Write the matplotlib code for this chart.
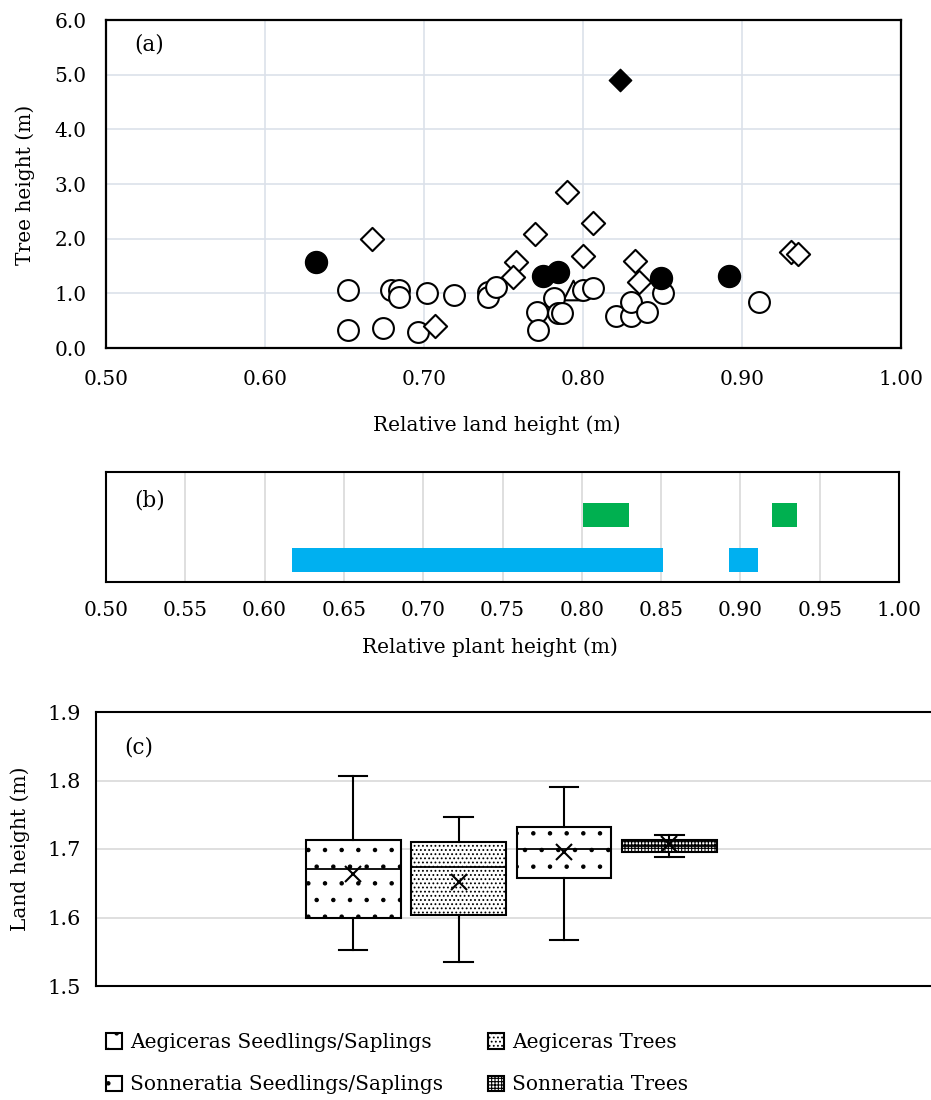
import matplotlib
matplotlib.use('Agg')
import matplotlib.pyplot as plt

plt.rcParams['font.family'] = ['DejaVu Serif']
plt.rcParams['font.size'] = 14.5
plt.rcParams['hatch.linewidth'] = 0.8

# ---- panel (a): tree height vs relative land height ----
open_circle_x = [0.652, 0.679, 0.684, 0.684, 0.702, 0.719, 0.740, 0.740, 0.745, 0.652, 0.674, 0.696,
                 0.771, 0.772, 0.782, 0.784, 0.787, 0.800, 0.806, 0.821, 0.830, 0.830, 0.840, 0.850, 0.911]
open_circle_y = [1.06, 1.06, 1.06, 0.93, 1.01, 0.97, 1.02, 0.93, 1.12, 0.33, 0.37, 0.29,
                 0.66, 0.33, 0.91, 0.64, 0.64, 1.06, 1.10, 0.59, 0.59, 0.84, 0.66, 1.01, 0.84]
open_diamond_x = [0.667, 0.707, 0.758, 0.756, 0.770, 0.790, 0.806, 0.800, 0.833, 0.835, 0.931, 0.935]
open_diamond_y = [1.99, 0.40, 1.57, 1.30, 2.09, 2.85, 2.29, 1.68, 1.59, 1.21, 1.76, 1.72]
filled_circle_x = [0.632, 0.775, 0.784, 0.849, 0.892]
filled_circle_y = [1.57, 1.32, 1.39, 1.28, 1.32]
filled_diamond_x = [0.823]
filled_diamond_y = [4.90]
triangle_x = [0.794]
triangle_y = [1.07]

# ---- panel (b): ranges of relative plant height ----
b_rows = [0, 1]
blue_start = [0.617, 0.893]
blue_end = [0.851, 0.911]
green_start = [0.801, 0.920]
green_end = [0.830, 0.936]

# ---- panel (c): land height box plots ----
box_labels = ['Aegiceras Seedlings/Saplings', 'Aegiceras Trees',
              'Sonneratia Seedlings/Saplings', 'Sonneratia Trees']
whis_lo = [1.553, 1.535, 1.567, 1.689]
q1 = [1.599, 1.603, 1.657, 1.696]
median = [1.671, 1.674, 1.700, 1.705]
q3 = [1.713, 1.710, 1.732, 1.713]
whis_hi = [1.807, 1.746, 1.790, 1.721]
mean = [1.664, 1.652, 1.695, 1.708]
hatches = ['.', '....', '.', '+++++']

W, H = 931, 1100
fig = plt.figure(figsize=(W / 100, H / 100), dpi=100, facecolor='white')


def rect(left, right, top, bottom):
    return [left / W, 1 - bottom / H, (right - left) / W, (bottom - top) / H]


# (a)
ax = fig.add_axes(rect(106, 901, 20, 348))
ax.scatter(triangle_x, triangle_y, marker='^', s=200, facecolor='white', edgecolor='black', linewidth=1.5, zorder=3)
ax.scatter(open_circle_x, open_circle_y, marker='o', s=225, facecolor='white', edgecolor='black', linewidth=1.5, zorder=3)
ax.scatter(open_diamond_x, open_diamond_y, marker='D', s=140, facecolor='white', edgecolor='black', linewidth=1.5, zorder=3)
ax.scatter(filled_circle_x, filled_circle_y, marker='o', s=250, facecolor='black', edgecolor='black', zorder=4)
ax.scatter(filled_diamond_x, filled_diamond_y, marker='D', s=130, facecolor='black', edgecolor='black', zorder=4)
ax.set_xlim(0.5, 1.0)
ax.set_ylim(0, 6)
ax.set_xticks([0.5, 0.6, 0.7, 0.8, 0.9, 1.0])
ax.set_xticklabels(['%.2f' % v for v in [0.5, 0.6, 0.7, 0.8, 0.9, 1.0]])
ax.set_yticks(range(7))
ax.set_yticklabels(['%.1f' % v for v in range(7)])
ax.tick_params(axis='x', length=0, pad=16)
ax.tick_params(axis='y', length=0, pad=14)
ax.grid(True, color='#DCE1EA', linewidth=1.2)
ax.set_axisbelow(True)
for s in ax.spines.values():
    s.set_linewidth(1.6)
ax.text(0.036, 0.924, '(a)', transform=ax.transAxes, va='center', fontsize=15.5)
fig.text(497 / W, 1 - 425 / H, 'Relative land height (m)', ha='center', va='center')
fig.text(25 / W, 1 - 185 / H, 'Tree height (m)', ha='center', va='center', rotation=90)

# (b)
ax = fig.add_axes(rect(106, 899, 472, 582))
ax.barh(b_rows[1], [e - s for s, e in zip(green_start, green_end)], left=green_start, height=0.53, color='#00B050')
ax.barh(b_rows[0], [e - s for s, e in zip(blue_start, blue_end)], left=blue_start, height=0.53, color='#00B0F0')
ax.set_xlim(0.5, 1.0)
ax.set_ylim(-0.5, 1.97)
xt = [0.5 + 0.05 * i for i in range(11)]
ax.set_xticks(xt)
ax.set_xticklabels(['%.2f' % v for v in xt])
ax.set_yticks([])
ax.tick_params(length=0, pad=14)
ax.grid(True, axis='x', color='#D9D9D9', linewidth=1.2)
ax.set_axisbelow(True)
for s in ax.spines.values():
    s.set_linewidth(1.5)
ax.text(0.036, 0.74, '(b)', transform=ax.transAxes, va='center', fontsize=15.5)
fig.text(490 / W, 1 - 647 / H, 'Relative plant height (m)', ha='center', va='center')

# (c)
ax = fig.add_axes(rect(96, 935, 712, 986))
stats = []
for i in range(4):
    stats.append({'label': box_labels[i], 'whislo': whis_lo[i], 'q1': q1[i], 'med': median[i],
                  'q3': q3[i], 'whishi': whis_hi[i], 'mean': mean[i], 'fliers': []})
bp = ax.bxp(stats, positions=[1, 2, 3, 4], widths=0.9, capwidths=0.27, patch_artist=True,
            showmeans=True, showfliers=False,
            boxprops=dict(facecolor='white', edgecolor='black', linewidth=1.5),
            medianprops=dict(color='black', linewidth=1.3),
            whiskerprops=dict(color='black', linewidth=1.5),
            capprops=dict(color='black', linewidth=1.5),
            meanprops=dict(marker='x', markeredgecolor='black', markersize=11, markeredgewidth=1.5))
for box, h in zip(bp['boxes'], hatches):
    box.set_hatch(h)
ax.set_xlim(-1.44, 6.52)
ax.set_ylim(1.5, 1.9)
ax.set_yticks([1.5, 1.6, 1.7, 1.8, 1.9])
ax.set_yticklabels(['1.5', '1.6', '1.7', '1.8', '1.9'])
ax.set_xticks([])
ax.tick_params(length=0, pad=11, labelsize=15)
ax.grid(True, axis='y', color='#D9D9D9', linewidth=1.2)
ax.set_axisbelow(True)
for s in ax.spines.values():
    s.set_linewidth(1.5)
ax.text(0.034, 0.87, '(c)', transform=ax.transAxes, va='center', fontsize=15.5)
fig.text(20 / W, 1 - 849 / H, 'Land height (m)', ha='center', va='center', rotation=90)

handles = [bp['boxes'][0], bp['boxes'][2], bp['boxes'][1], bp['boxes'][3]]
labels = [box_labels[0], box_labels[2], box_labels[1], box_labels[3]]
fig.legend(handles, labels, ncol=2, loc='upper left', bbox_to_anchor=(96 / W, 1 - 1023 / H),
           frameon=False, handlelength=0.8, handleheight=0.8, handletextpad=0.4,
           columnspacing=2.2, labelspacing=1.16, borderpad=0, fontsize=14.5)

fig.savefig('out.png', dpi=100)
